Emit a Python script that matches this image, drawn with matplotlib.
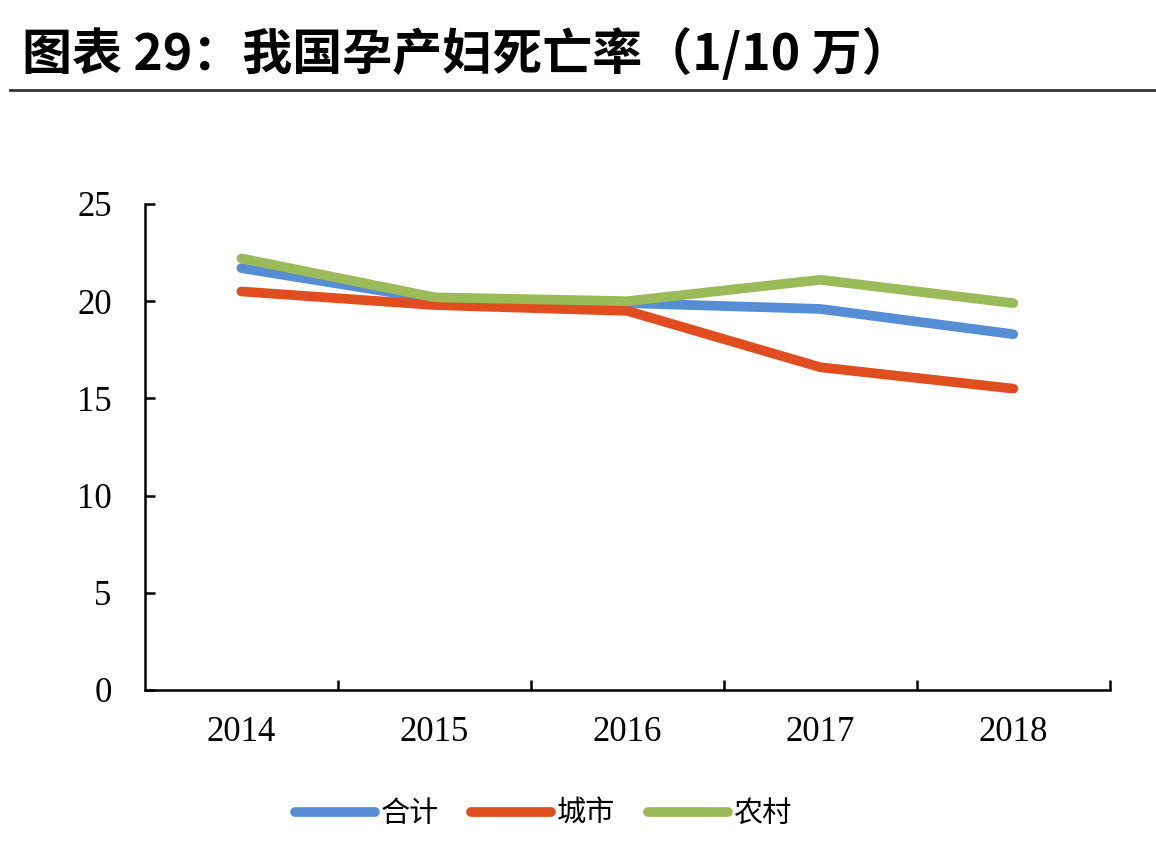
import matplotlib
matplotlib.use('Agg')
import matplotlib.pyplot as plt
from matplotlib.lines import Line2D

plt.rcParams['font.family'] = ['Liberation Serif', 'Noto Sans CJK SC', 'DejaVu Sans']

years = ['2014', '2015', '2016', '2017', '2018']
total = [21.7, 20.1, 19.9, 19.6, 18.3]
urban = [20.5, 19.8, 19.5, 16.6, 15.5]
rural = [22.2, 20.2, 20.0, 21.1, 19.9]
series_names = ['合计', '城市', '农村']
colors = ['#558ED5', '#E04E1F', '#9BBB59']

fig = plt.figure(figsize=(11.56, 8.56), dpi=100)
ax = fig.add_axes([0.1254, 0.194, 0.960 - 0.1254, 0.5677])

x = list(range(len(years)))
for vals, name, c in zip([total, urban, rural], series_names, colors):
    ax.plot(x, vals, color=c, lw=7, solid_capstyle='round', label=name)

ax.set_xlim(-0.5, len(years) - 0.5)
ax.set_ylim(0, 25)
ax.set_yticks([0, 5, 10, 15, 20, 25])
ax.set_xticks([i + 0.5 for i in range(len(years))])
ax.set_xticklabels([])
ax.set_xticks(x, minor=True)
ax.set_xticklabels(years, minor=True)

for s in ['top', 'right']:
    ax.spines[s].set_visible(False)
for s in ['left', 'bottom']:
    ax.spines[s].set_linewidth(1.8)

ax.tick_params(axis='y', direction='in', length=7, width=1.8, pad=24, labelsize=25)
ax.tick_params(axis='x', which='major', direction='in', length=7, width=1.8)
ax.tick_params(axis='x', which='minor', length=0, pad=19, labelsize=25)

fig.legend(loc='center', bbox_to_anchor=(0.47, 0.049), ncol=3, frameon=False,
           prop={'family': ['Noto Sans CJK SC'], 'size': 21},
           handlelength=2.75, handletextpad=0.2, columnspacing=1.1)

fig.text(0.019, 1 - 55 / 856, '图表 29：我国孕产妇死亡率（1/10 万）',
         family=['Noto Sans CJK SC'], weight='bold', fontsize=36, va='center', ha='left')
fig.add_artist(Line2D([0.009, 1.0], [1 - 90 / 856, 1 - 90 / 856],
                      transform=fig.transFigure, color='#333333', lw=2))

fig.savefig('out.png', dpi=100)
